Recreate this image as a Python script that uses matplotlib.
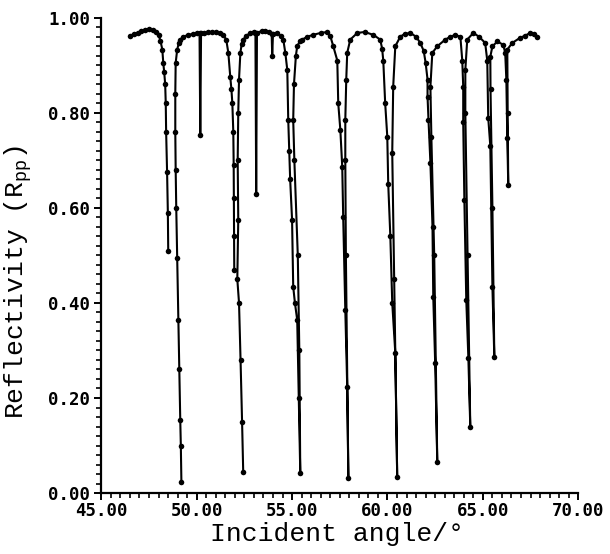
import numpy as np
import matplotlib
matplotlib.use('Agg')
import matplotlib.pyplot as plt
from matplotlib.ticker import MultipleLocator, FormatStrFormatter

# Reflectivity scan; the curve is broken into segments
# where the plotted trace is open at the bottom of a dip
seg1_angle = [46.52, 46.7, 46.9, 47.1, 47.3, 47.5, 47.7, 47.85, 48.0, 48.1,
              48.2, 48.25, 48.3, 48.35, 48.38, 48.4, 48.45, 48.49, 48.51]
seg1_refl = [0.962, 0.966, 0.968, 0.972, 0.975, 0.976, 0.974, 0.970, 0.964, 0.952,
             0.933, 0.905, 0.885, 0.860, 0.820, 0.760, 0.675, 0.590, 0.510]

seg2_angle = [49.20, 49.17, 49.14, 49.09, 49.04, 48.98, 48.93, 48.90, 48.88, 48.88,
              48.90, 48.98, 49.06, 49.14, 49.3, 49.56, 49.8, 50.0, 50.15, 50.19,
              50.23, 50.4, 50.6, 50.8, 51.0, 51.2, 51.4, 51.55, 51.66, 51.76,
              51.82, 51.87, 51.92, 51.94, 51.95, 51.96, 51.97]
seg2_refl = [0.023, 0.100, 0.154, 0.260, 0.364, 0.495, 0.600, 0.680, 0.760, 0.840,
             0.905, 0.933, 0.946, 0.954, 0.960, 0.964, 0.966, 0.967, 0.968, 0.754,
             0.967, 0.968, 0.969, 0.970, 0.970, 0.968, 0.963, 0.954, 0.926, 0.876,
             0.850, 0.820, 0.760, 0.690, 0.620, 0.540, 0.470]

seg3_angle = [52.44, 52.38, 52.30, 52.22, 52.13, 52.18, 52.15, 52.18, 52.22, 52.29,
              52.36, 52.44, 52.6, 52.81, 53.0, 53.08, 53.12, 53.16, 53.4, 53.6,
              53.8, 53.93, 53.96, 54.0, 54.22, 54.4, 54.54, 54.65, 54.75, 54.8,
              54.85, 54.9, 55.0, 55.06, 55.15, 55.27, 55.35, 55.43, 55.38, 55.30,
              55.12, 55.06, 55.1, 55.2, 55.27, 55.4, 55.53, 55.8, 56.1, 56.5,
              56.84, 57.0, 57.16, 57.37, 57.42, 57.53, 57.63, 57.68, 57.79, 57.89,
              57.95, 57.82, 57.79, 57.79, 57.84, 57.89, 58.05, 58.42, 58.8, 59.26,
              59.62, 59.72, 59.78, 59.88, 59.99, 60.04, 60.15, 60.25, 60.41, 60.51,
              60.35, 60.25, 60.3, 60.41, 60.67, 60.9, 61.2, 61.5, 61.72, 61.9,
              62.0, 62.1, 62.1, 62.15, 62.25, 62.36, 62.4, 62.5, 62.61, 62.45,
              62.3, 62.25, 62.35, 62.61, 63.03, 63.3, 63.55, 63.82, 63.92, 63.97,
              63.97, 64.03, 64.13, 64.24, 64.34, 64.2, 64.08, 64.08, 64.18, 64.5,
              64.8, 65.12, 65.23, 65.28, 65.39, 65.5, 65.6, 65.5, 65.4, 65.39,
              65.5, 65.76, 66.07, 66.17, 66.23, 66.28, 66.33, 66.3, 66.28, 66.54,
              66.96, 67.2, 67.48, 67.7, 67.85]
seg3_refl = [0.044, 0.150, 0.280, 0.400, 0.450, 0.575, 0.700, 0.800, 0.870, 0.926,
             0.945, 0.954, 0.962, 0.968, 0.970, 0.968, 0.630, 0.968, 0.972, 0.973,
             0.970, 0.966, 0.920, 0.966, 0.968, 0.962, 0.954, 0.925, 0.890, 0.785,
             0.720, 0.660, 0.575, 0.434, 0.400, 0.364, 0.200, 0.042, 0.300, 0.500,
             0.700, 0.785, 0.860, 0.920, 0.940, 0.950, 0.954, 0.960, 0.964, 0.968,
             0.970, 0.962, 0.940, 0.910, 0.820, 0.764, 0.686, 0.580, 0.385, 0.223,
             0.032, 0.500, 0.700, 0.785, 0.870, 0.926, 0.954, 0.968, 0.970, 0.964,
             0.954, 0.935, 0.910, 0.820, 0.750, 0.650, 0.540, 0.400, 0.295, 0.034,
             0.450, 0.716, 0.855, 0.940, 0.960, 0.966, 0.968, 0.960, 0.947, 0.930,
             0.905, 0.870, 0.834, 0.785, 0.695, 0.560, 0.413, 0.274, 0.065, 0.500,
             0.750, 0.855, 0.926, 0.940, 0.954, 0.960, 0.964, 0.960, 0.910, 0.855,
             0.780, 0.617, 0.406, 0.284, 0.139, 0.500, 0.800, 0.890, 0.954, 0.968,
             0.960, 0.947, 0.910, 0.790, 0.730, 0.434, 0.286, 0.600, 0.850, 0.918,
             0.940, 0.950, 0.943, 0.926, 0.870, 0.747, 0.648, 0.800, 0.933, 0.947,
             0.958, 0.962, 0.968, 0.966, 0.960]

x_ticks = [45, 50, 55, 60, 65, 70]
y_ticks = [0.0, 0.2, 0.4, 0.6, 0.8, 1.0]

angle = seg1_angle + [np.nan] + seg2_angle + [np.nan] + seg3_angle
refl = seg1_refl + [np.nan] + seg2_refl + [np.nan] + seg3_refl

plt.rcParams['mathtext.default'] = 'regular'

fig = plt.figure(figsize=(6.10, 5.54), dpi=100)
ax = fig.add_axes([0.166, 0.110, 0.782, 0.858])

ax.plot(angle, refl, color='black', linewidth=1.5,
        marker='o', markersize=4, markerfacecolor='black', markeredgewidth=0)

ax.set_xlim(45, 70)
ax.set_ylim(0, 1.0)
ax.set_xticks(x_ticks)
ax.set_yticks(y_ticks)
ax.xaxis.set_minor_locator(MultipleLocator(0.5))
ax.yaxis.set_minor_locator(MultipleLocator(0.02))
ax.xaxis.set_major_formatter(FormatStrFormatter('%.2f'))
ax.yaxis.set_major_formatter(FormatStrFormatter('%.2f'))

for side in ['top', 'right']:
    ax.spines[side].set_visible(False)
for side in ['left', 'bottom']:
    ax.spines[side].set_linewidth(1.6)

ax.tick_params(which='major', direction='out', length=5, width=1.4, color='black')
ax.tick_params(which='minor', direction='out', length=3.5, width=1.2, color='black')
ax.tick_params(axis='x', which='major', pad=1.5)
ax.tick_params(axis='y', which='major', pad=3)
for lbl in ax.get_xticklabels() + ax.get_yticklabels():
    lbl.set_fontfamily('DejaVu Sans Mono')
    lbl.set_fontsize(12.5)
    lbl.set_fontweight('bold')

ax.set_xlabel('Incident angle/°', fontfamily='Liberation Mono', fontsize=19)
ax.set_ylabel('Reflectivity (R$_{pp}$)', fontfamily='Liberation Mono', fontsize=19)
ax.xaxis.set_label_coords(0.495, -0.060)
ax.yaxis.set_label_coords(-0.142, 0.445)

fig.savefig('out.png', dpi=100)
